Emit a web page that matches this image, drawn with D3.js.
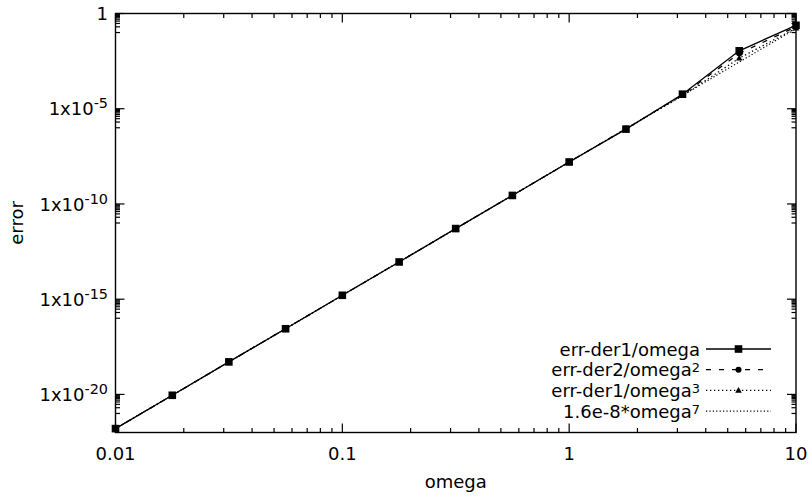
<!DOCTYPE html>
<html>
<head>
<meta charset="utf-8">
<script src="https://cdn.jsdelivr.net/npm/d3@7"></script>
<style>
  html, body { margin: 0; padding: 0; background: #fff; }
  svg text { font-family: "DejaVu Sans", sans-serif; fill: #000; }
</style>
</head>
<body>
<svg id="chart" width="811" height="498"></svg>
<script>
// Sample frequencies (quarter-decade steps)
const omega = [0.01, 0.0178, 0.0316, 0.0562, 0.1, 0.178, 0.316, 0.562, 1, 1.78, 3.16, 5.62, 10];

// Error series
const errDer1 = [1.6e-22, 9.0e-21, 5.1e-19, 2.8e-17, 1.6e-15, 9.0e-14, 5.1e-12, 2.8e-10, 1.6e-8, 8.5e-7, 5.8e-5, 1.1e-2, 0.24];
const errDer2 = [1.6e-22, 9.0e-21, 5.1e-19, 2.8e-17, 1.6e-15, 9.0e-14, 5.1e-12, 2.8e-10, 1.6e-8, 8.8e-7, 5.4e-5, 8.0e-3, 0.20];
const errDer3 = [1.6e-22, 9.0e-21, 5.1e-19, 2.8e-17, 1.6e-15, 9.0e-14, 5.1e-12, 2.8e-10, 1.6e-8, 8.7e-7, 4.8e-5, 4.5e-3, 0.17];

// Reference power law 1.6e-8*omega^7 (straight on log-log, so its two ends suffice)
const fitCoef = 1.6e-8;
const fitExp = 7;
const fitOmega = [0.01, 10];
const fitErr = fitOmega.map(w => fitCoef * Math.pow(w, fitExp));

// Axis ticks
const xMajor = [0.01, 0.1, 1, 10];
const xMajorLabels = ["0.01", "0.1", "1", "10"];
const yMajorExp = [0, -5, -10, -15, -20];

const svg = d3.select("#chart");
const L = 115.5, R = 796, T = 13.5, B = 432.5;
const FS = 18;

const x = d3.scaleLog().domain([0.01, 10]).range([L, R]);
const y = d3.scaleLog().domain([1e-22, 1]).range([B, T]);

const major = 9, minor = 4.5;
const tickG = svg.append("g").attr("stroke", "#000").attr("stroke-width", 1.2);

// x ticks (bottom + mirrored on top)
const xMinor = [];
for (let e = -2; e < 1; e++) for (let k = 2; k <= 9; k++) xMinor.push(k * Math.pow(10, e));
xMajor.forEach(v => {
  tickG.append("line").attr("x1", x(v)).attr("x2", x(v)).attr("y1", B).attr("y2", B - major);
  tickG.append("line").attr("x1", x(v)).attr("x2", x(v)).attr("y1", T).attr("y2", T + major);
});
xMinor.forEach(v => {
  tickG.append("line").attr("x1", x(v)).attr("x2", x(v)).attr("y1", B).attr("y2", B - minor);
  tickG.append("line").attr("x1", x(v)).attr("x2", x(v)).attr("y1", T).attr("y2", T + minor);
});

// y ticks (left + mirrored on right); minor ticks at k*10^(M-1) below each major
const yMinor = [];
yMajorExp.forEach(M => { for (let k = 1; k <= 9; k++) yMinor.push(k * Math.pow(10, M - 1)); });
yMajorExp.forEach(M => {
  const v = Math.pow(10, M);
  tickG.append("line").attr("x1", L).attr("x2", L + major).attr("y1", y(v)).attr("y2", y(v));
  tickG.append("line").attr("x1", R).attr("x2", R - major).attr("y1", y(v)).attr("y2", y(v));
});
yMinor.forEach(v => {
  tickG.append("line").attr("x1", L).attr("x2", L + minor).attr("y1", y(v)).attr("y2", y(v));
  tickG.append("line").attr("x1", R).attr("x2", R - minor).attr("y1", y(v)).attr("y2", y(v));
});

// Tick labels
xMajor.forEach((v, i) => {
  svg.append("text").attr("x", x(v)).attr("y", 460).attr("text-anchor", "middle")
    .attr("font-size", FS).text(xMajorLabels[i]);
});
yMajorExp.forEach(M => {
  const t = svg.append("text").attr("x", 108).attr("y", y(Math.pow(10, M)) + 6.7)
    .attr("text-anchor", "end").attr("font-size", FS);
  if (M === 0) { t.text("1"); return; }
  t.append("tspan").text("1x10");
  t.append("tspan").attr("dy", -7).attr("font-size", FS * 0.8).text(String(M));
});

// Axis titles
svg.append("text").attr("x", (L + R) / 2).attr("y", 488).attr("text-anchor", "middle")
  .attr("font-size", FS).text("omega");
svg.append("text").attr("transform", `translate(23,${(T + B) / 2}) rotate(-90)`)
  .attr("text-anchor", "middle").attr("font-size", FS).text("error");

// Series
const line = d3.line().x(d => x(d[0])).y(d => y(d[1]));
const series = [
  { name: "err-der1/omega", sup: "", vals: errDer1, dash: null, marker: "square" },
  { name: "err-der2/omega", sup: "2", vals: errDer2, dash: "5,8", marker: "circle" },
  { name: "err-der1/omega", sup: "3", vals: errDer3, dash: "1.3,2.7", marker: "triangle" }
];

function drawMarker(g, type, cx, cy) {
  if (type === "square") {
    g.append("rect").attr("x", cx - 3.8).attr("y", cy - 3.8).attr("width", 7.6).attr("height", 7.6).attr("fill", "#000");
  } else if (type === "circle") {
    g.append("circle").attr("cx", cx).attr("cy", cy).attr("r", 3).attr("fill", "#000");
  } else {
    const s = 3.3;
    g.append("path").attr("d", `M${cx},${cy - s}L${cx + s},${cy + s * 0.7}L${cx - s},${cy + s * 0.7}Z`).attr("fill", "#000");
  }
}

const plotG = svg.append("g");
series.forEach(s => {
  const pts = omega.map((w, i) => [w, s.vals[i]]);
  plotG.append("path").attr("d", line(pts)).attr("fill", "none").attr("stroke", "#000")
    .attr("stroke-width", 1.3).attr("stroke-dasharray", s.dash);
  pts.forEach(p => drawMarker(plotG, s.marker, x(p[0]), y(p[1])));
});
plotG.append("path").attr("d", line(fitOmega.map((w, i) => [w, fitErr[i]])))
  .attr("fill", "none").attr("stroke", "#000").attr("stroke-width", 1.2).attr("stroke-dasharray", "1.2,2.2");

// Frame
svg.append("rect").attr("x", L).attr("y", T).attr("width", R - L).attr("height", B - T)
  .attr("fill", "none").attr("stroke", "#000").attr("stroke-width", 1.4);

// Legend
const legRows = [...series, { name: "1.6e-8*omega", sup: "7", dash: "1.2,2.2", marker: null }];
const legY0 = 349, legDy = 20.7, textX = 700, s1 = 706, s2 = 771;
legRows.forEach((r, i) => {
  const cy = legY0 + i * legDy;
  const t = svg.append("text").attr("x", textX).attr("y", cy + 6.5).attr("text-anchor", "end").attr("font-size", FS);
  t.append("tspan").text(r.name);
  if (r.sup) t.append("tspan").attr("dy", -4).attr("font-size", FS * 0.72).text(r.sup);
  svg.append("line").attr("x1", s1).attr("x2", s2).attr("y1", cy).attr("y2", cy)
    .attr("stroke", "#000").attr("stroke-width", 1.3).attr("stroke-dasharray", r.dash);
  if (r.marker) drawMarker(svg, r.marker, (s1 + s2) / 2, cy);
});
</script>
</body>
</html>
